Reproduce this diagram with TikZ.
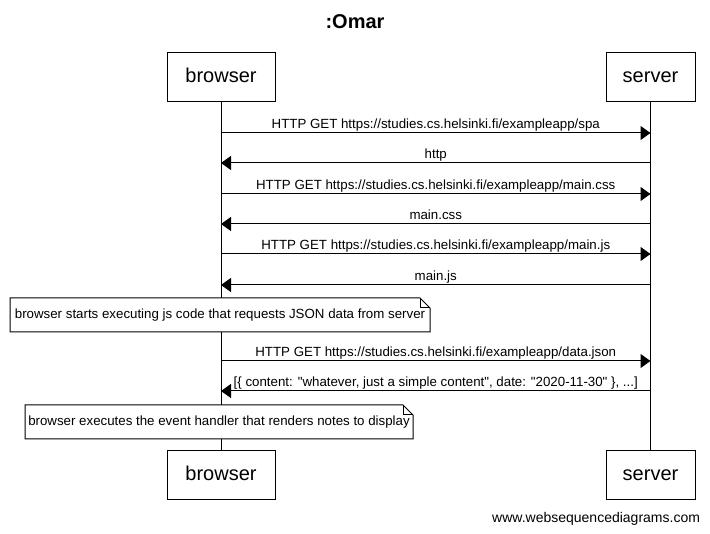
\documentclass[tikz,border=0pt]{standalone}
\usepackage{fontspec}
\setmainfont{Liberation Sans}[Ligatures=TeXOff]
\usetikzlibrary{arrows.meta}
\begin{document}
\begin{tikzpicture}[x=1pt,y=-1pt,
  every node/.style={inner sep=0pt,outer sep=0pt},
  part/.style={draw,line width=1pt,minimum width=108pt,minimum height=49pt,text height=14.5pt,text depth=4pt,font=\fontsize{20}{24}\selectfont},
  life/.style={line width=1pt},
  msg/.style={line width=1pt,-{Triangle[length=10pt,width=14pt]}},
  lbl/.style={font=\fontsize{13.3}{15}\selectfont,above=2pt,text height=9.8pt,text depth=2.8pt},
  notetext/.style={font=\fontsize{13.3}{15}\selectfont,minimum height=34pt,text height=9.8pt,text depth=2.8pt},
  noteline/.style={line width=1pt}]
\useasboundingbox (0,0) rectangle (710,534);
\node[font=\bfseries\fontsize{20}{24}\selectfont] (title) at (355,22) {:Omar};
\node[part] (bt) at (221,77.5) {browser};
\node[part,minimum width=89pt] (st) at (650.5,77.5) {server};
\node[part] (bb) at (221,475.5) {browser};
\node[part,minimum width=89pt] (sb) at (650.5,475.5) {server};
\draw[life] (bt.south) -- (bb.north);
\draw[life] (st.south) -- (sb.north);
% coordinates on lifelines
\foreach \i/\y in {1/133,2/163,3/194,4/224,5/254,6/285,7/361,8/391}{
  \coordinate (b\i) at (221,\y);
  \coordinate (s\i) at (650.5,\y);
}
\draw[msg] (b1) -- node[lbl] {HTTP GET https://studies.cs.helsinki.fi/exampleapp/spa} (s1);
\draw[msg] (s2) -- node[lbl] {http} (b2);
\draw[msg] (b3) -- node[lbl] {HTTP GET https://studies.cs.helsinki.fi/exampleapp/main.css} (s3);
\draw[msg] (s4) -- node[lbl] {main.css} (b4);
\draw[msg] (b5) -- node[lbl] {HTTP GET https://studies.cs.helsinki.fi/exampleapp/main.js} (s5);
\draw[msg] (s6) -- node[lbl] {main.js} (b6);
\draw[msg] (b7) -- node[lbl] {HTTP GET https://studies.cs.helsinki.fi/exampleapp/data.json} (s7);
\draw[msg] (s8) -- node[lbl] {[\{ content: "whatever, just a simple content", date: "2020-11-30" \}, ...]} (b8);
% note 1
\node[notetext,minimum width=420pt,fill=white] (n1) at (220,315) {browser starts executing js code that requests JSON data from server};
\draw[noteline] (n1.south west) -- (n1.north west) -- ([xshift=-10pt]n1.north east) -- ([yshift=-10pt]n1.north east) -- (n1.south east) -- cycle;
\draw[noteline] ([xshift=-10pt]n1.north east) -- ([xshift=-10pt,yshift=-10pt]n1.north east) -- ([yshift=-10pt]n1.north east);
% note 2
\node[notetext,minimum width=388pt,fill=white] (n2) at (219,422) {browser executes the event handler that renders notes to display};
\draw[noteline] (n2.south west) -- (n2.north west) -- ([xshift=-10pt]n2.north east) -- ([yshift=-10pt]n2.north east) -- (n2.south east) -- cycle;
\draw[noteline] ([xshift=-10pt]n2.north east) -- ([xshift=-10pt,yshift=-10pt]n2.north east) -- ([yshift=-10pt]n2.north east);
\node[font=\fontsize{14}{16}\selectfont,anchor=east] (foot) at (700,519) {www.websequencediagrams.com};
\end{tikzpicture}
\end{document}
